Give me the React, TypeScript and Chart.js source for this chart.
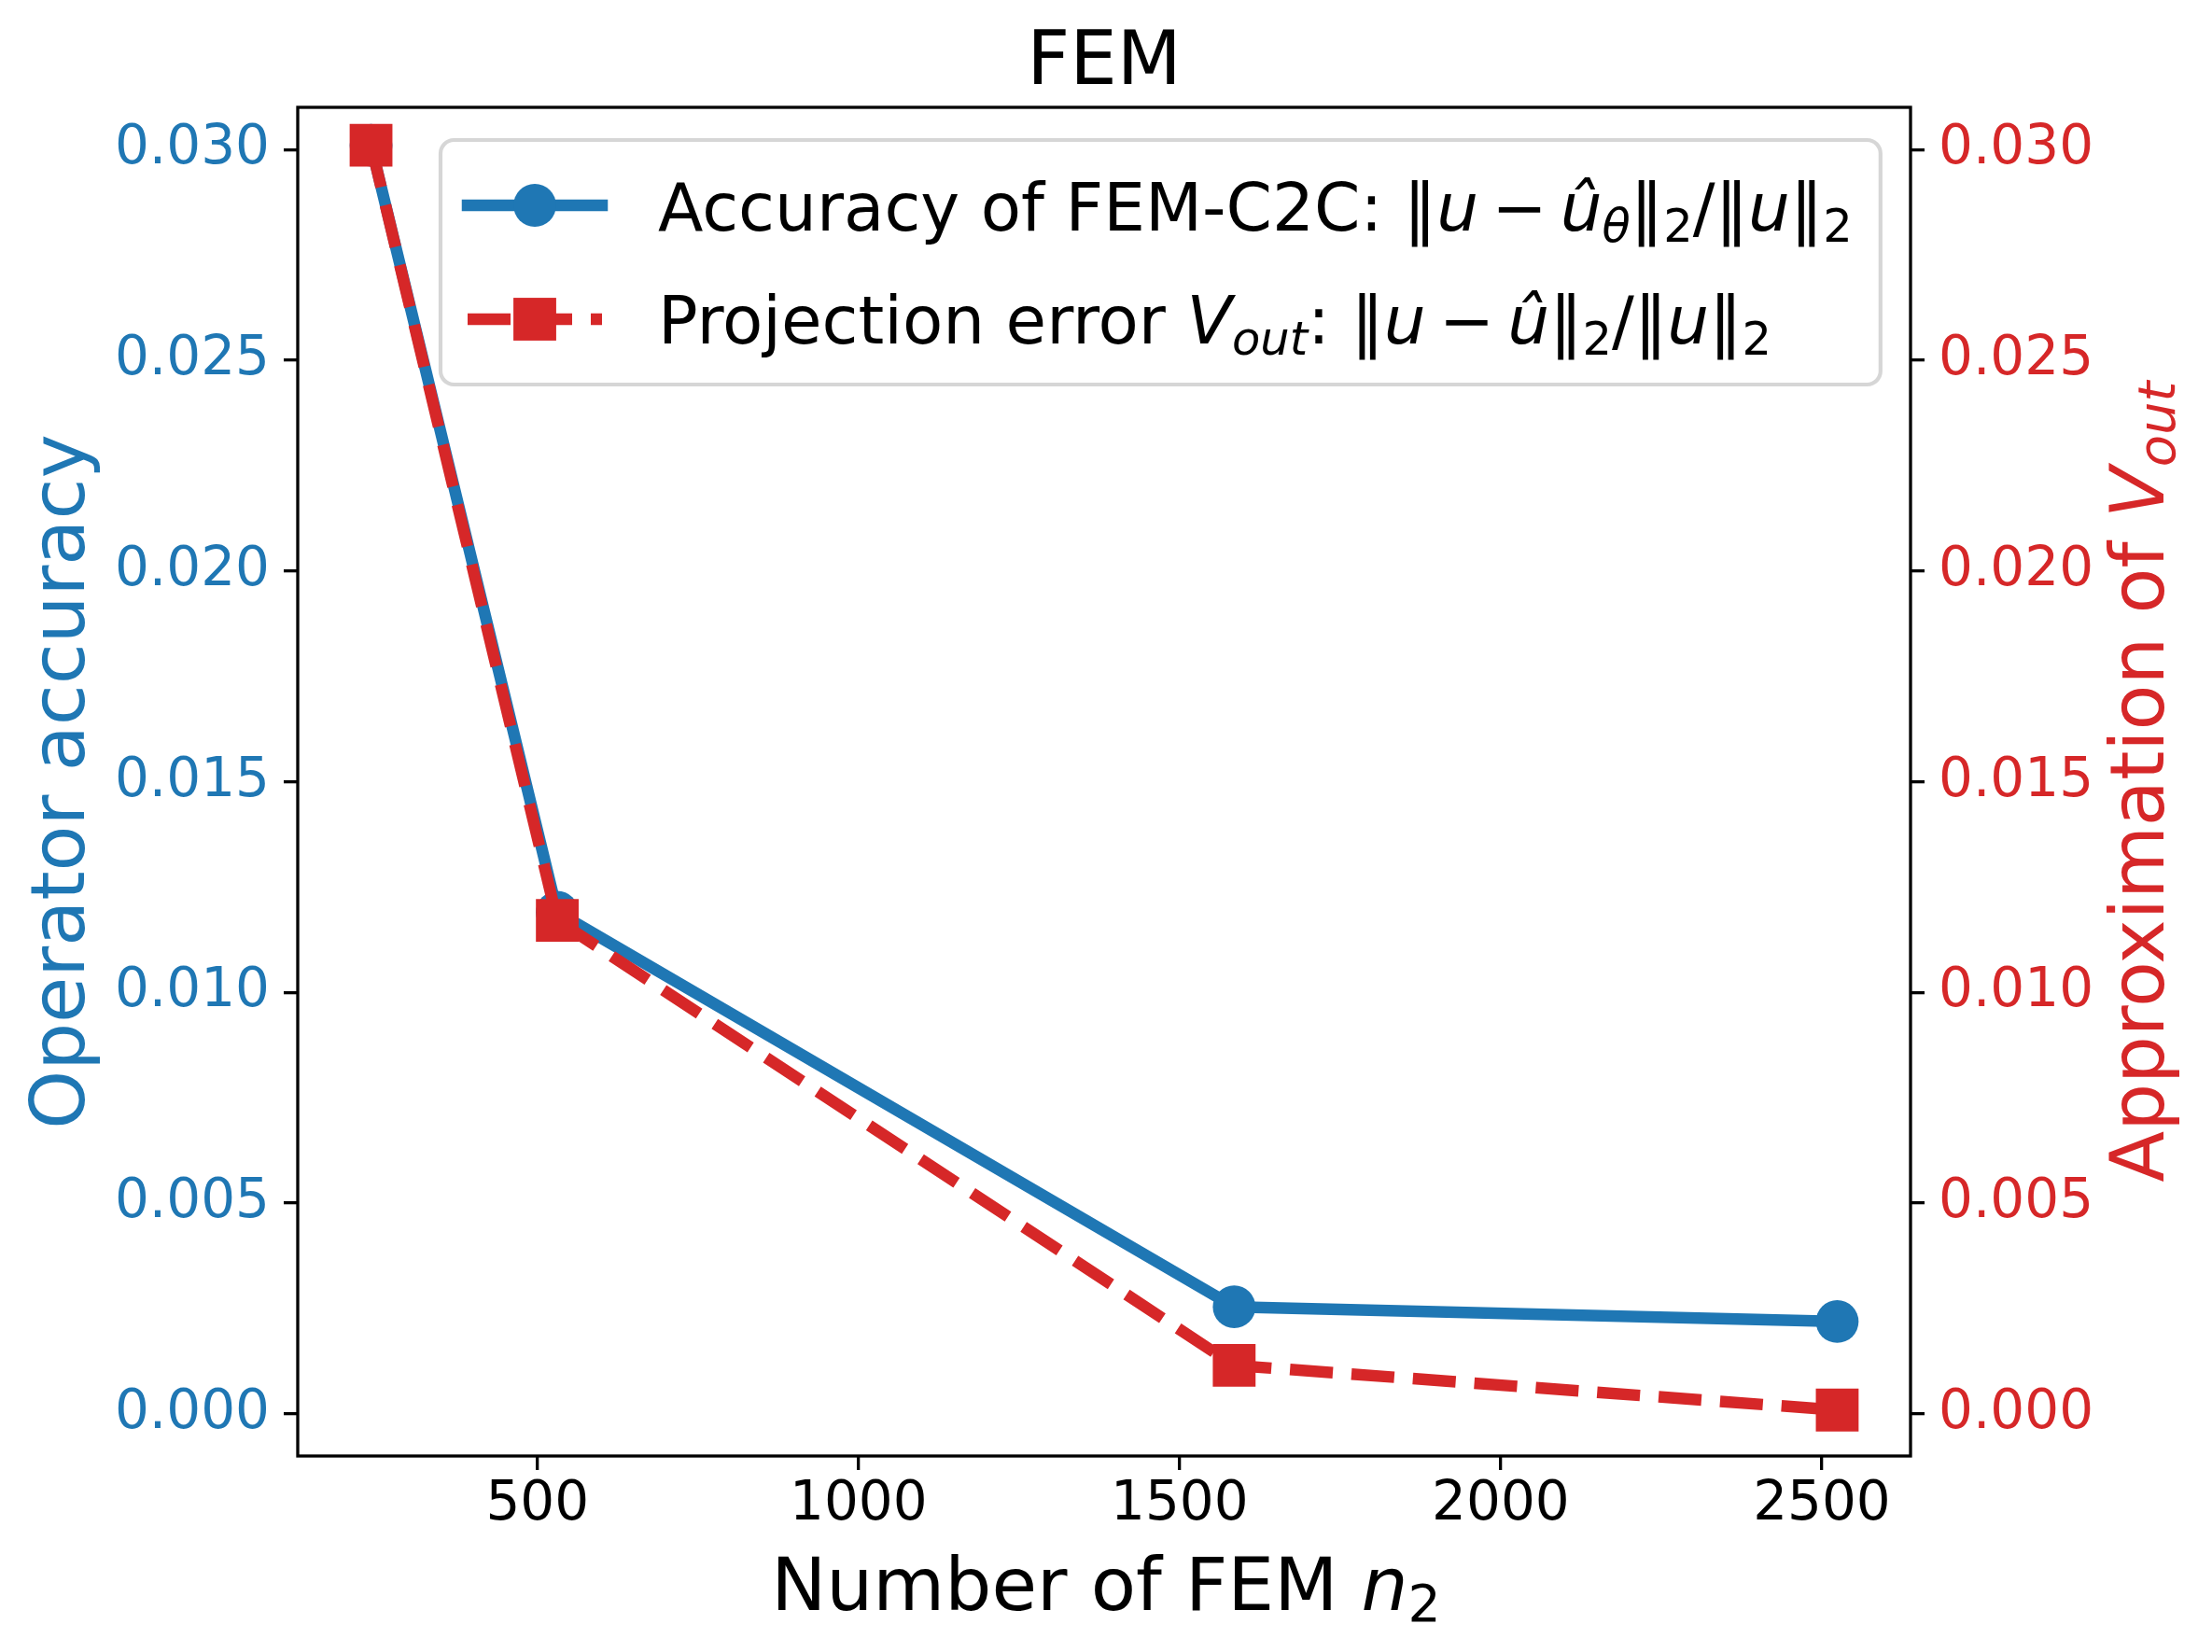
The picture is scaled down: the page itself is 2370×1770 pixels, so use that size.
import React, { useEffect, useRef } from "react";
import { Chart, registerables } from "chart.js";

Chart.register(...registerables);

// ---------------- data ----------------
const N2 = [241, 531, 1585, 2524];
const ACCURACY = [0.0301, 0.0119, 0.00254, 0.00219];
const PROJECTION = [0.0301, 0.01171, 0.00115, 0.00009];
const X_TICKS = [500, 1000, 1500, 2000, 2500];
const Y_TICKS = [0, 0.005, 0.01, 0.015, 0.02, 0.025, 0.03];

type Seg = { t: string; it?: boolean; sub?: boolean };

const MINUS = "\u2009\u2212\u2009";
const TITLE: Seg[] = [{ t: "FEM" }];
const X_LABEL: Seg[] = [{ t: "Number of FEM " }, { t: "n", it: true }, { t: "2", sub: true }];
const Y_LABEL_LEFT: Seg[] = [{ t: "Operator accuracy" }];
const Y_LABEL_RIGHT: Seg[] = [
  { t: "Approximation of " },
  { t: "V", it: true },
  { t: "out", it: true, sub: true },
];
const LEGEND_ACC: Seg[] = [
  { t: "Accuracy of FEM-C2C: " },
  { t: "\u2016" },
  { t: "u", it: true },
  { t: MINUS },
  { t: "\u00fb", it: true },
  { t: "\u03b8", it: true, sub: true },
  { t: "\u2016" },
  { t: "2", sub: true },
  { t: "/" },
  { t: "\u2016" },
  { t: "u", it: true },
  { t: "\u2016" },
  { t: "2", sub: true },
];
const LEGEND_PROJ: Seg[] = [
  { t: "Projection error " },
  { t: "V", it: true },
  { t: "out", it: true, sub: true },
  { t: ": " },
  { t: "\u2016" },
  { t: "u", it: true },
  { t: MINUS },
  { t: "\u00fb", it: true },
  { t: "\u2016" },
  { t: "2", sub: true },
  { t: "/" },
  { t: "\u2016" },
  { t: "u", it: true },
  { t: "\u2016" },
  { t: "2", sub: true },
];

// ---------------- style ----------------
const BLUE = "#1f77b4";
const RED = "#d62728";
const FONT = "'DejaVu Sans'";
const X_MIN = 126.85;
const X_MAX = 2638.15;
const Y_MIN = -0.001;
const Y_MAX = 0.031;
const LINE_W = 12.5;
const DASH = [46, 20];
const CIRCLE_R = 22.9;
const SQUARE_R = 32.4;

type RichOpts = { subScale: number; subDrop: number };
const AXIS_RICH: RichOpts = { subScale: 0.7, subDrop: 0.15 };
const LEGEND_RICH: RichOpts = { subScale: 0.7, subDrop: 0.17 };

function fontStr(size: number, italic?: boolean) {
  return `${italic ? "italic " : ""}${size}px ${FONT}`;
}

function measureRich(ctx: CanvasRenderingContext2D, segs: Seg[], size: number, o: RichOpts) {
  let w = 0;
  for (const s of segs) {
    ctx.font = fontStr(s.sub ? size * o.subScale : size, s.it);
    w += ctx.measureText(s.t).width;
  }
  return w;
}

function drawRich(
  ctx: CanvasRenderingContext2D,
  segs: Seg[],
  size: number,
  color: string,
  x: number,
  y: number,
  align: "left" | "center",
  o: RichOpts,
  angle = 0
) {
  const w = measureRich(ctx, segs, size, o);
  ctx.save();
  ctx.translate(x, y);
  ctx.rotate(angle);
  ctx.fillStyle = color;
  ctx.textAlign = "left";
  ctx.textBaseline = "alphabetic";
  let cx = align === "center" ? -w / 2 : 0;
  for (const s of segs) {
    const sz = s.sub ? size * o.subScale : size;
    ctx.font = fontStr(sz, s.it);
    ctx.fillText(s.t, cx, s.sub ? size * o.subDrop : 0);
    cx += ctx.measureText(s.t).width;
  }
  ctx.restore();
  return w;
}

function roundRect(ctx: CanvasRenderingContext2D, x: number, y: number, w: number, h: number, r: number) {
  ctx.beginPath();
  ctx.moveTo(x + r, y);
  ctx.lineTo(x + w - r, y);
  ctx.arcTo(x + w, y, x + w, y + r, r);
  ctx.lineTo(x + w, y + h - r);
  ctx.arcTo(x + w, y + h, x + w - r, y + h, r);
  ctx.lineTo(x + r, y + h);
  ctx.arcTo(x, y + h, x, y + h - r, r);
  ctx.lineTo(x, y + r);
  ctx.arcTo(x, y, x + r, y, r);
  ctx.closePath();
}

const decorPlugin = {
  id: "decor",
  afterDatasetsDraw(chart: any) {
    const ctx: CanvasRenderingContext2D = chart.ctx;
    const a = chart.chartArea;
    // spines
    ctx.save();
    ctx.strokeStyle = "#000";
    ctx.lineWidth = 3.3;
    ctx.strokeRect(a.left, a.top, a.right - a.left, a.bottom - a.top);
    ctx.restore();

    // legend
    const LS = 70.8;
    const bx = a.left + 153;
    const by = a.top + 35;
    const textX = bx + 233;
    const w1 = measureRich(ctx, LEGEND_ACC, LS, LEGEND_RICH);
    const w2 = measureRich(ctx, LEGEND_PROJ, LS, LEGEND_RICH);
    const bw = textX - bx + Math.max(w1, w2) + 30;
    const bh = 262;
    ctx.save();
    roundRect(ctx, bx, by, bw, bh, 14.4);
    ctx.fillStyle = "rgba(255,255,255,0.8)";
    ctx.fill();
    ctx.lineWidth = 4.17;
    ctx.strokeStyle = "rgba(204,204,204,0.8)";
    ctx.stroke();
    ctx.restore();

    const hx0 = bx + 29;
    const hx1 = bx + 173;
    const hc = (hx0 + hx1) / 2;
    // row 1 handle
    const r1 = by + 70;
    ctx.save();
    ctx.strokeStyle = BLUE;
    ctx.lineWidth = LINE_W;
    ctx.lineCap = "square";
    ctx.beginPath();
    ctx.moveTo(hx0, r1);
    ctx.lineTo(hx1, r1);
    ctx.stroke();
    ctx.fillStyle = BLUE;
    ctx.beginPath();
    ctx.arc(hc, r1, CIRCLE_R, 0, Math.PI * 2);
    ctx.fill();
    // row 2 handle
    const r2 = by + 192;
    ctx.strokeStyle = RED;
    ctx.lineCap = "butt";
    ctx.setLineDash(DASH);
    ctx.beginPath();
    ctx.moveTo(hx0, r2);
    ctx.lineTo(hx1, r2);
    ctx.stroke();
    ctx.setLineDash([]);
    ctx.fillStyle = RED;
    const half = SQUARE_R * Math.SQRT1_2;
    ctx.fillRect(hc - half, r2 - half, half * 2, half * 2);
    ctx.restore();

    drawRich(ctx, LEGEND_ACC, LS, "#000", textX, by + 97, "left", LEGEND_RICH);
    drawRich(ctx, LEGEND_PROJ, LS, "#000", textX, by + 218, "left", LEGEND_RICH);
  },
  afterDraw(chart: any) {
    const ctx: CanvasRenderingContext2D = chart.ctx;
    const a = chart.chartArea;
    const cx = (a.left + a.right) / 2;
    const cy = (a.top + a.bottom) / 2;
    drawRich(ctx, TITLE, 80, "#000", cx, a.top - 25, "center", AXIS_RICH);
    drawRich(ctx, X_LABEL, 79, "#000", cx + 2, a.bottom + 165, "center", AXIS_RICH);
    drawRich(ctx, Y_LABEL_LEFT, 80, BLUE, a.left - 229, cy, "center", AXIS_RICH, -Math.PI / 2);
    drawRich(ctx, Y_LABEL_RIGHT, 80, RED, a.right + 271, cy, "center", AXIS_RICH, -Math.PI / 2);
  },
};

export default function App() {
  const ref = useRef<HTMLCanvasElement | null>(null);

  useEffect(() => {
    const canvas = ref.current;
    if (!canvas) return;
    const tickGrid = {
      display: true,
      drawOnChartArea: false,
      drawTicks: true,
      tickLength: 15,
      color: "#000",
      lineWidth: 3.3,
    };
    const chart = new Chart(canvas, {
      type: "line",
      data: {
        datasets: [
          {
            label: "Accuracy of FEM-C2C",
            data: N2.map((x, i) => ({ x, y: ACCURACY[i] })),
            yAxisID: "y",
            borderColor: BLUE,
            backgroundColor: BLUE,
            borderWidth: LINE_W,
            borderCapStyle: "square",
            borderJoinStyle: "round",
            pointStyle: "circle",
            pointRadius: CIRCLE_R,
            pointHoverRadius: CIRCLE_R,
            pointBorderWidth: 0,
            pointBackgroundColor: BLUE,
            tension: 0,
            order: 1,
            clip: false,
          } as any,
          {
            label: "Projection error V_out",
            data: N2.map((x, i) => ({ x, y: PROJECTION[i] })),
            yAxisID: "y1",
            borderColor: RED,
            backgroundColor: RED,
            borderWidth: LINE_W,
            borderDash: DASH,
            borderCapStyle: "butt",
            borderJoinStyle: "round",
            pointStyle: "rect",
            pointRadius: SQUARE_R,
            pointHoverRadius: SQUARE_R,
            pointBorderWidth: 0,
            pointBackgroundColor: RED,
            tension: 0,
            order: 0,
            clip: false,
          } as any,
        ],
      },
      options: {
        animation: false,
        responsive: false,
        devicePixelRatio: 1,
        events: [],
        layout: { padding: { top: 115, left: 0, right: 0, bottom: 0 } },
        plugins: {
          legend: { display: false },
          tooltip: { enabled: false },
          title: { display: false },
        },
        scales: {
          x: {
            type: "linear",
            position: "bottom",
            min: X_MIN,
            max: X_MAX,
            afterBuildTicks: (s: any) => {
              s.ticks = X_TICKS.map((v) => ({ value: v }));
            },
            afterFit: (s: any) => {
              s.height = 210;
            },
            grid: tickGrid,
            border: { display: false },
            ticks: {
              color: "#000",
              font: { size: 58, family: FONT },
              padding: 3,
              maxRotation: 0,
              autoSkip: false,
              callback: (v: any) => String(v),
            },
          },
          y: {
            type: "linear",
            position: "left",
            min: Y_MIN,
            max: Y_MAX,
            afterBuildTicks: (s: any) => {
              s.ticks = Y_TICKS.map((v) => ({ value: v }));
            },
            afterFit: (s: any) => {
              s.width = 319;
            },
            grid: tickGrid,
            border: { display: false },
            ticks: {
              color: BLUE,
              font: { size: 58, family: FONT },
              padding: 15,
              autoSkip: false,
              callback: (v: any) => Number(v).toFixed(3),
            },
          },
          y1: {
            type: "linear",
            position: "right",
            min: Y_MIN,
            max: Y_MAX,
            afterBuildTicks: (s: any) => {
              s.ticks = Y_TICKS.map((v) => ({ value: v }));
            },
            afterFit: (s: any) => {
              s.width = 323;
            },
            grid: tickGrid,
            border: { display: false },
            ticks: {
              color: RED,
              font: { size: 58, family: FONT },
              padding: 15,
              autoSkip: false,
              callback: (v: any) => Number(v).toFixed(3),
            },
          },
        },
      } as any,
      plugins: [decorPlugin as any],
    });
    return () => chart.destroy();
  }, []);

  return (
    <div style={{ position: "fixed", left: 0, top: 0, width: 2370, height: 1770, background: "#fff" }}>
      <canvas ref={ref} width={2370} height={1770} style={{ display: "block", width: 2370, height: 1770 }} />
    </div>
  );
}
